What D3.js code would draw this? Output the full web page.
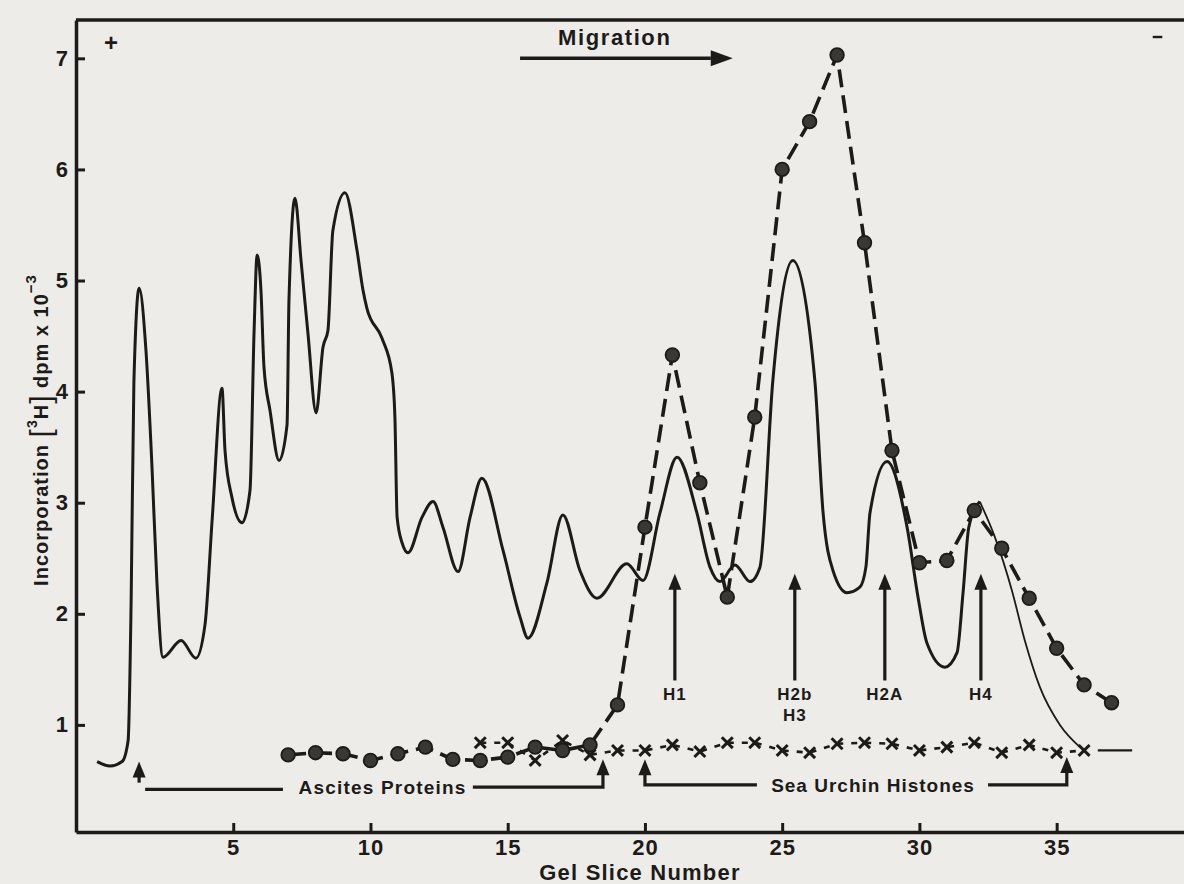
<!DOCTYPE html>
<html>
<head>
<meta charset="utf-8">
<script src="https://cdn.jsdelivr.net/npm/d3@7"></script>
<style>
  body { margin: 0; background: #eeece8; }
  svg { display: block; }
  text { font-family: "Liberation Sans", Arial, sans-serif; font-weight: bold; fill: #1d1b19; }
</style>
</head>
<body>
<svg id="chart"></svg>
<script>
const width = 1184, height = 884;
const ink = '#1d1b19', paper = '#eeece8';

// densitometer scan of the gel (solid trace)
const scanSlice = [0.04, 0.51, 0.95, 1.17, 1.28, 1.38, 1.57, 1.82, 2.04, 2.22, 2.44, 3.1, 3.64, 3.97,
  4.23, 4.59, 4.7, 4.95, 5.32, 5.61, 5.76, 5.87, 6.01, 6.12, 6.34, 6.67, 6.96, 7.03, 7.25, 7.47,
  7.72, 8.02, 8.27, 8.45, 8.63, 9.07, 9.51, 9.73, 9.87, 10.42, 10.78, 10.89, 10.97, 11.15, 11.37,
  11.88, 12.28, 12.64, 13.19, 13.63, 14.06, 14.83, 15.45, 15.74, 16.43, 17.01, 17.63, 18.25,
  19.34, 19.93, 20.55, 21.17, 21.89, 22.37, 22.73, 23.28, 23.83, 24.19, 24.66, 25.39, 26.19,
  26.49, 26.85, 27.36, 27.83, 28.05, 28.2, 28.82, 29.55, 29.95, 30.27, 30.93, 31.37, 31.59,
  31.8, 32.2];
const scanValue = [0.67, 0.63, 0.67, 0.86, 2.12, 4.08, 4.93, 4.37, 3.32, 2.28, 1.61, 1.76, 1.6, 1.9,
  2.84, 4.03, 3.47, 3.05, 2.82, 3.11, 4.55, 5.23, 4.91, 4.22, 3.83, 3.38, 3.7, 4.82, 5.74, 5.18,
  4.53, 3.81, 4.4, 4.55, 5.45, 5.79, 5.27, 4.91, 4.75, 4.48, 4.17, 3.77, 2.87, 2.64, 2.55,
  2.87, 3.01, 2.78, 2.38, 2.87, 3.22, 2.57, 1.97, 1.78, 2.28, 2.89, 2.39, 2.14,
  2.45, 2.3, 2.91, 3.41, 2.91, 2.42, 2.29, 2.44, 2.29, 2.42, 4.1, 5.18, 4.1,
  2.91, 2.39, 2.19, 2.24, 2.42, 2.91, 3.37, 2.78, 2.15, 1.74, 1.52, 1.65, 2.19,
  2.78, 3.01];
// thin tail of the scan after the H4 peak
const tailSlice = [32.2, 32.75, 33.37, 33.84, 34.39, 35.12, 35.85];
const tailValue = [3.01, 2.69, 2.21, 1.76, 1.34, 1.0, 0.8];

// [3H] incorporation per gel slice (dashed line with dots)
const dotSlice = d3.range(7, 38);
const dotValue = [0.73, 0.75, 0.74, 0.68, 0.74, 0.80, 0.69, 0.68, 0.71, 0.80, 0.77, 0.82, 1.18,
  2.78, 4.33, 3.18, 2.15, 3.77, 6.0, 6.43, 7.03, 5.34, 3.47, 2.46, 2.48, 2.93, 2.59, 2.14,
  1.69, 1.36, 1.2];

// sea urchin histone marker run (x symbols)
const crossSlice = d3.range(14, 37);
const crossValue = [0.84, 0.84, 0.68, 0.86, 0.73, 0.77, 0.77, 0.82, 0.76, 0.84, 0.84, 0.77, 0.75,
  0.83, 0.84, 0.83, 0.77, 0.80, 0.84, 0.75, 0.82, 0.75, 0.77];

const xTicks = [5, 10, 15, 20, 25, 30, 35];
const yTicks = [1, 2, 3, 4, 5, 6, 7];

const peakNames = [['H1'], ['H2b', 'H3'], ['H2A'], ['H4']];
const peakSlice = [21.09, 25.46, 28.74, 32.24];

const svg = d3.select('#chart').attr('width', width).attr('height', height);
svg.append('rect').attr('width', width).attr('height', height).attr('fill', paper);

const x = d3.scaleLinear().domain([-0.729, 39.64]).range([76, 1184]);
const y = d3.scaleLinear().domain([0.036, 7.345]).range([832, 20]);

// frame
svg.append('line')
  .attr('x1', x.range()[0]).attr('x2', x.range()[1])
  .attr('y1', y.range()[1]).attr('y2', y.range()[1])
  .attr('stroke', ink).attr('stroke-width', 3.5);

const yAxis = svg.append('g')
  .attr('transform', `translate(${x.range()[0]},0)`)
  .call(d3.axisLeft(y).tickValues(yTicks).tickSize(-9).tickSizeOuter(0).tickPadding(7));
const xAxis = svg.append('g')
  .attr('transform', `translate(0,${y.range()[0]})`)
  .call(d3.axisBottom(x).tickValues(xTicks).tickSize(-9).tickSizeOuter(0).tickPadding(7));

[xAxis, yAxis].forEach(ax => {
  ax.attr('font-family', null).attr('font-size', null)
  ax.select('.domain').attr('stroke', ink).attr('stroke-width', 3.5)
  ax.selectAll('.tick line').attr('stroke', ink).attr('stroke-width', 3)
  ax.selectAll('.tick text').attr('font-size', 22).attr('letter-spacing', 1).attr('fill', ink)
})

svg.append('text')
  .attr('x', 640).attr('y', 880)
  .attr('text-anchor', 'middle').attr('font-size', 22).attr('letter-spacing', 1.2)
  .text('Gel Slice Number');

const yLabel = svg.append('text')
  .attr('transform', 'translate(48,430) rotate(-90)')
  .attr('text-anchor', 'middle').attr('font-size', 20).attr('letter-spacing', 1);
yLabel.append('tspan').text('Incorporation ');
yLabel.append('tspan').attr('font-size', 30).attr('font-weight', 'normal').attr('dy', 3).text('[');
yLabel.append('tspan').attr('font-size', 14).attr('dy', -14).text('3');
yLabel.append('tspan').attr('dy', 11).text('H');
yLabel.append('tspan').attr('font-size', 30).attr('font-weight', 'normal').attr('dy', 3).text(']');
yLabel.append('tspan').attr('dy', -3).text(' dpm x 10');
yLabel.append('tspan').attr('font-size', 15).attr('dy', -12).text('\u22123');

// scan trace
const line = d3.line().x(d => x(d[0])).y(d => y(d[1])).curve(d3.curveMonotoneX);
svg.append('path')
  .datum(d3.zip(scanSlice, scanValue))
  .attr('d', line)
  .attr('fill', 'none').attr('stroke', ink).attr('stroke-width', 3)
  .attr('stroke-linejoin', 'round');
svg.append('path')
  .datum(d3.zip(tailSlice, tailValue))
  .attr('d', line)
  .attr('fill', 'none').attr('stroke', ink).attr('stroke-width', 1.8);

// histone marker x's
const straight = d3.line().x(d => x(d[0])).y(d => y(d[1]));
const crossData = d3.zip(crossSlice, crossValue);
svg.append('path')
  .datum(crossData)
  .attr('d', straight)
  .attr('fill', 'none').attr('stroke', ink).attr('stroke-width', 2.6)
  .attr('stroke-dasharray', '6,8');
const lastCross = crossData[crossData.length - 1];
svg.append('line')
  .attr('x1', x(lastCross[0] + 0.5)).attr('x2', x(lastCross[0] + 1.75))
  .attr('y1', y(lastCross[1])).attr('y2', y(lastCross[1]))
  .attr('stroke', ink).attr('stroke-width', 2.2);
const xSymbol = d3.symbol(d3.symbolX || d3.symbolTimes, 80);
svg.append('g').selectAll('path')
  .data(crossData)
  .join('path')
  .attr('transform', d => `translate(${x(d[0])},${y(d[1])})`)
  .attr('d', xSymbol)
  .attr('fill', 'none').attr('stroke', ink).attr('stroke-width', 3);

// [3H] dots
const dotData = d3.zip(dotSlice, dotValue);
svg.append('path')
  .datum(dotData)
  .attr('d', straight)
  .attr('fill', 'none').attr('stroke', ink).attr('stroke-width', 3.6)
  .attr('stroke-dasharray', '18,8');
svg.append('g').selectAll('circle')
  .data(dotData)
  .join('circle')
  .attr('cx', d => x(d[0])).attr('cy', d => y(d[1]))
  .attr('r', 6.8)
  .attr('fill', '#3a3835').attr('stroke', ink).attr('stroke-width', 1.8);

// arrows
function arrowUp(g, xs, yTop, yBottom) {
  g.append('line')
    .attr('x1', xs).attr('x2', xs).attr('y1', yTop + 8).attr('y2', yBottom)
    .attr('stroke', ink).attr('stroke-width', 3.2);
  g.append('path')
    .attr('d', `M${xs},${yTop}L${xs - 6.5},${yTop + 16}L${xs + 6.5},${yTop + 16}Z`)
    .attr('fill', ink);
}

const notes = svg.append('g');
peakNames.forEach((names, i) => {
  const px = x(peakSlice[i]);
  arrowUp(notes, px, y(2.36), y(1.4));
  names.forEach((n, j) => {
    notes.append('text')
      .attr('x', px).attr('y', y(1.22) + j * 21)
      .attr('text-anchor', 'middle').attr('font-size', 17).attr('letter-spacing', 1)
      .text(n);
  });
});

// Ascites proteins bracket
arrowUp(notes, x(1.57), y(0.67), y(0.48));
notes.append('path')
  .attr('d', `M${x(1.79)},${y(0.42)}H${x(6.81)}`)
  .attr('stroke', ink).attr('stroke-width', 3.2).attr('fill', 'none');
notes.append('path')
  .attr('d', `M${x(13.73)},${y(0.44)}H${x(18.47)}V${y(0.62)}`)
  .attr('stroke', ink).attr('stroke-width', 3.2).attr('fill', 'none');
arrowUp(notes, x(18.47), y(0.69), y(0.6));
notes.append('text')
  .attr('x', x(10.44)).attr('y', y(0.38))
  .attr('text-anchor', 'middle').attr('font-size', 19).attr('letter-spacing', 1.2)
  .text('Ascites Proteins');

// Sea urchin histones bracket
notes.append('path')
  .attr('d', `M${x(20.0)},${y(0.62)}V${y(0.46)}H${x(24.08)}`)
  .attr('stroke', ink).attr('stroke-width', 3.2).attr('fill', 'none');
arrowUp(notes, x(20.0), y(0.69), y(0.6));
notes.append('path')
  .attr('d', `M${x(32.5)},${y(0.46)}H${x(35.37)}V${y(0.62)}`)
  .attr('stroke', ink).attr('stroke-width', 3.2).attr('fill', 'none');
arrowUp(notes, x(35.37), y(0.71), y(0.6));
notes.append('text')
  .attr('x', x(28.31)).attr('y', y(0.4))
  .attr('text-anchor', 'middle').attr('font-size', 19).attr('letter-spacing', 1)
  .text('Sea Urchin Histones');

// migration arrow
notes.append('line')
  .attr('x1', x(15.45)).attr('x2', x(22.4))
  .attr('y1', y(7.0)).attr('y2', y(7.0))
  .attr('stroke', ink).attr('stroke-width', 3.5);
notes.append('path')
  .attr('d', `M${x(23.2)},${y(7.0)}L${x(23.2) - 22},${y(7.0) - 8}L${x(23.2) - 22},${y(7.0) + 8}Z`)
  .attr('fill', ink);
notes.append('text')
  .attr('x', x(18.9)).attr('y', 45)
  .attr('text-anchor', 'middle').attr('font-size', 22).attr('letter-spacing', 1.6)
  .text('Migration');

// electrode signs
notes.append('text')
  .attr('x', x(0.55)).attr('y', 51)
  .attr('text-anchor', 'middle').attr('font-size', 24).attr('font-weight', 'normal')
  .text('+');
notes.append('line')
  .attr('x1', x(38.5)).attr('x2', x(38.85))
  .attr('y1', 37).attr('y2', 37)
  .attr('stroke', ink).attr('stroke-width', 2.4);
</script>
</body>
</html>
